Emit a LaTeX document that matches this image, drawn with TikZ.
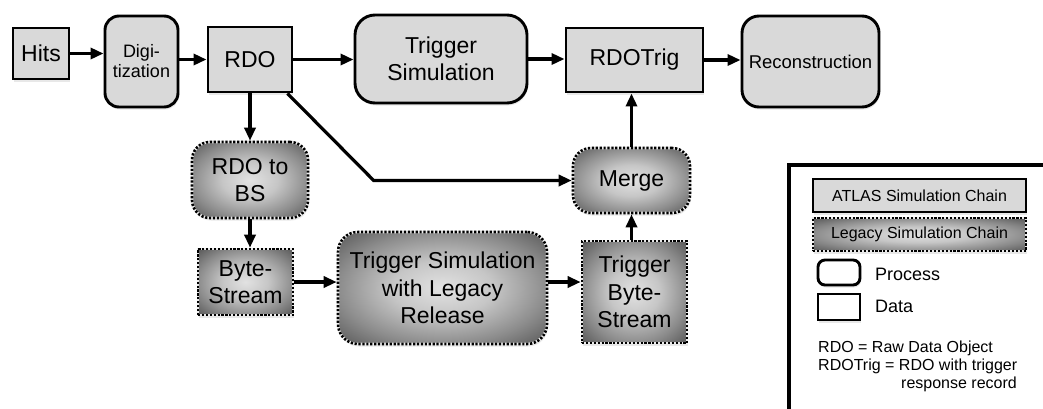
\documentclass[tikz,border=0pt]{standalone}
\usepackage{fontspec}
\setmainfont{Liberation Sans}
\usetikzlibrary{arrows.meta,shadows,calc}
\definecolor{atlasfill}{RGB}{217,217,217}
\definecolor{lgin}{RGB}{226,226,226}
\definecolor{lgin2}{RGB}{198,198,198}
\definecolor{lgmid}{RGB}{140,140,140}
\definecolor{lgout}{RGB}{85,85,85}
\definecolor{lgedge}{RGB}{235,235,235}
\pgfdeclareradialshading{legacyshade}{\pgfpoint{0bp}{0bp}}{color(0bp)=(lgin); color(12bp)=(lgin2); color(25bp)=(lgmid); color(36bp)=(lgout); color(50bp)=(lgout)}
\begin{document}
\begin{tikzpicture}[x=1pt,y=-1pt,
  base/.style={line width=2.9pt, draw=black, inner sep=0pt, align=center,
    drop shadow={opacity=0.18, shadow xshift=1pt, shadow yshift=-2.5pt}},
  atlas/.style={base, fill=atlasfill},
  legacy/.style={base, shade, shading=legacyshade, draw=lgedge, line width=2.6pt,
    postaction={draw=black, line width=2.6pt, dash pattern=on 2.2pt off 1.7pt}},
  proc/.style={rounded corners=#1},
  sz/.style 2 args={minimum width=#1pt, minimum height=#2pt},
  big/.style={font=\fontsize{23}{27.5}\selectfont},
  arr/.style={line width=3.2pt, -{Triangle[length=13pt,width=11pt]}},
  lgtext/.style={inner sep=0pt, font=\fontsize{16}{19}\selectfont},
]
\useasboundingbox (0,0) rectangle (1043,408);

% ATLAS chain
\node[atlas, big, sz={56}{51}] (hits) at (41,53.5) {Hits};
\node[atlas, proc=14pt, sz={73}{91}, font=\fontsize{18}{20}\selectfont] (digi) at (141.5,61.5) {Digi-\\tization};
\node[atlas, big, sz={84}{65}] (rdo) at (250,59.5) {RDO};
\node[atlas, big, proc=20pt, sz={172}{88}] (trigsim) at (441,59) {Trigger\\Simulation};
\node[atlas, big, sz={137}{64}] (rdotrig) at (634.5,60) {RDOTrig};
\node[atlas, proc=17pt, sz={137}{91}, font=\fontsize{18.5}{22}\selectfont] (reco) at (810.5,61.5) {Reconstruction};

% Legacy chain
\node[legacy, big, proc=18pt, sz={116}{76}] (rdo2bs) at (250,180) {RDO to\\BS};
\node[legacy, big, proc=18pt, sz={117}{65}] (merge) at (631.5,180.5) {Merge};
\node[legacy, big, sz={95}{66}] (bs) at (245.5,282) {Byte-\\Stream};
\node[legacy, big, proc=20pt, sz={209}{112}] (tslr) at (442.5,288) {Trigger Simulation\\with Legacy\\Release};
\node[legacy, big, sz={105}{102}] (tbs) at (634.5,292) {Trigger\\Byte-\\Stream};

% connectors
\draw[arr] (hits.east) -- (hits.east -| digi.west);
\draw[arr] (rdo.west -| digi.east) -- (rdo.west);
\draw[arr] (rdo.east) -- (rdo.east -| trigsim.west);
\draw[arr] (trigsim.east) -- (trigsim.east -| rdotrig.west);
\draw[arr] (rdotrig.east) -- (rdotrig.east -| reco.west);
\draw[arr] (rdo.south) -- (rdo2bs.north);
\coordinate (bend) at ([xshift=-198pt]merge.west);
\draw[arr] ([xshift=-6pt]rdo.south east) -- (bend) -- (merge.west);
\draw[arr] (rdo2bs.south) -- (rdo2bs.south |- bs.north);
\draw[arr] (bs.east) -- (bs.east -| tslr.west);
\draw[arr] (tslr.east |- bs.east) -- (bs.east -| tbs.west);
\draw[arr] (merge.south |- tbs.north) -- (merge.south);
\draw[arr] (merge.north) -- (merge.north |- rdotrig.south);

% legend
\coordinate (lgtr) at (1050,165);
\coordinate (lgtl) at (789,165);
\coordinate (lgbl) at (789,415);
\draw[line width=3.2pt, line join=miter] (lgtr) -- (lgtl) -- (lgbl);
\node[atlas, sz={213}{33}, font=\fontsize{16}{19}\selectfont] (lgatlas) at (919.5,195.5) {ATLAS Simulation Chain};
\node[legacy, sz={213}{33}, font=\fontsize{16}{19}\selectfont] (lglegacy) at (919.5,234.5) {Legacy Simulation Chain};
\node[base, fill=white, proc=7pt, sz={42}{25}] (lgproc) at (839,272.5) {};
\node[base, fill=white, sz={42}{26}] (lgdata) at (839,307) {};
\node[anchor=base west, inner sep=0pt, font=\fontsize{18}{21}\selectfont] (lgproctext) at (875,280) {Process};
\node[anchor=base west, inner sep=0pt, font=\fontsize{18}{21}\selectfont] (lgdatatext) at (875,312.5) {Data};
\node[lgtext, anchor=base west] (lgn1) at (818,352.5) {RDO = Raw Data Object};
\node[lgtext, anchor=base west] (lgn2) at (818,370.5) {RDOTrig = RDO with trigger};
\node[lgtext, anchor=base east] (lgn3) at (1017,388.5) {response record};
\end{tikzpicture}
\end{document}
